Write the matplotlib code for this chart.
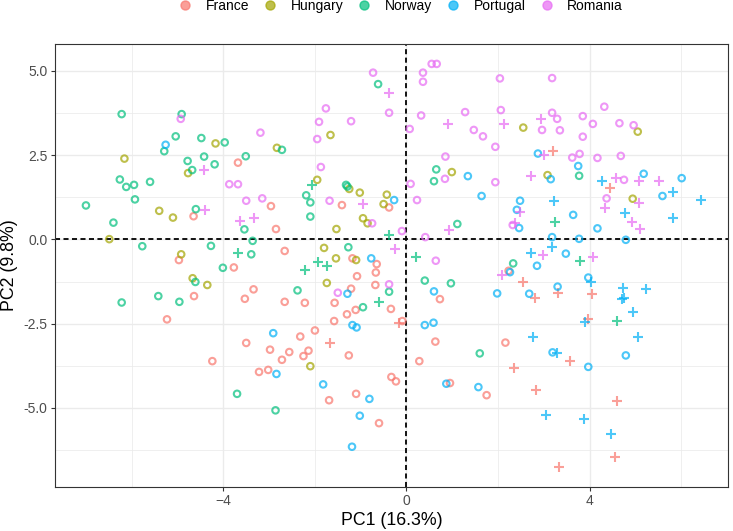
import numpy as np
import matplotlib
matplotlib.use("Agg")
import matplotlib.pyplot as plt
from matplotlib.lines import Line2D

plt.rcParams['font.family'] = ['Liberation Sans', 'DejaVu Sans']

countries = ["France", "Hungary", "Norway", "Portugal", "Romania"]
colors = {"France": "#F8766D", "Hungary": "#A3A500", "Norway": "#00BF7D",
          "Portugal": "#00B0F6", "Romania": "#E76BF3"}

# France
france_o_x = [-3.68, -4.65, -2.96, -2.85, -2.66, -4.97, -3.77, -3.34, -3.53, -2.66, -4.64, -5.23, -3.50,
              -1.41, -0.38, -1.18, -0.65, -0.67, -1.08, -0.68, -1.21, -2.22, -1.57, -1.11, -1.30, -0.34,
              -1.58, -0.09, 0.73, 2.23, -2.00, -2.32, 0.63, 2.16, -4.24, -2.98, -2.72, -3.22, -3.02,
              -2.56, -2.14, -2.25, -1.26, -1.69, -1.10, -0.33, -0.23, -0.60, 0.28, 0.95, 1.75]
france_o_y = [2.28, 0.69, 0.99, 0.31, -0.34, -0.61, -0.83, -1.48, -1.76, -1.85, -1.68, -2.37, -3.07,
              1.02, 0.95, -0.56, -0.73, -0.98, -1.09, -1.35, -1.46, -1.88, -1.88, -2.09, -2.22, -2.06,
              -2.42, -2.42, -1.77, -0.93, -2.70, -2.88, -3.03, -3.06, -3.61, -3.27, -3.57, -3.93, -3.87,
              -3.34, -3.30, -3.46, -3.44, -4.77, -4.58, -4.08, -4.21, -5.45, -3.61, -4.26, -4.62]
france_p_x = [3.19, 4.44, -0.16, -1.66, 2.55, 3.30, 2.81, 4.06, 3.97, 2.35, 3.57, 2.83, 4.60, 4.55, 3.34]
france_p_y = [2.62, 1.52, -2.49, -3.08, -1.25, -1.60, -1.75, -1.62, -2.35, -3.81, -3.60, -4.46, -4.80, -6.45, -6.75]

# Hungary
hungary_o_x = [-4.17, -2.83, -6.16, -4.77, -1.66, 0.99, -1.95, -1.25, -1.02, -0.43, 5.05, 2.55, 3.08, 4.94,
               -5.40, -5.10, -6.49, -4.92, -4.67, -4.35, -0.50, -0.95, -0.85, -1.53, -1.80, -1.54, -1.10,
               -1.74, -2.10]
hungary_o_y = [2.85, 2.72, 2.40, 1.97, 3.10, 2.00, 1.77, 1.50, 1.39, 1.33, 3.20, 3.32, 1.91, 1.21,
               0.85, 0.65, 0.01, -0.44, -1.15, -1.35, 1.05, 0.63, 0.48, 0.31, -0.25, -0.56, -0.61,
               -1.29, -3.76]
hungary_p_x = []
hungary_p_y = []

# Norway
norway_o_x = [-6.22, -4.91, -5.29, -5.04, -4.48, -3.97, -2.72, -4.78, -4.42, -4.19, -3.51, -4.68, -6.26,
              -6.12, -5.95, -5.60, -5.93, -0.62, 0.65, 0.60, -1.32, -1.29, -2.19, 3.77, -7.00, -4.60,
              -6.40, -5.77, -4.27, -3.54, -3.36, -3.39, -4.01, -4.61, -6.22, -5.42, -4.96, -2.10, -2.10,
              1.11, -1.27, -0.38, -2.38, -0.95, 0.40, 0.97, 2.33, -3.70, -2.86, 1.60]
norway_o_y = [3.72, 3.72, 2.62, 3.06, 3.01, 2.88, 2.66, 2.33, 2.46, 2.23, 2.47, 2.06, 1.78,
              1.56, 1.62, 1.71, 1.19, 4.61, 2.08, 1.73, 1.62, 1.57, 1.31, 1.89, 1.01, 0.90,
              0.50, -0.20, -0.19, 0.30, -0.04, -0.44, -0.84, -1.26, -1.87, -1.68, -1.85, 1.10, 0.68,
              0.46, -0.23, -1.55, -1.51, -2.01, -1.22, -1.30, -0.71, -4.58, -5.07, -3.38]
norway_p_x = [-2.06, -3.67, -0.38, 0.20, -1.94, -1.73, -2.21, -0.59, 3.24, 3.78, 4.60]
norway_p_y = [1.62, -0.40, 0.13, -0.53, -0.66, -0.79, -0.91, -1.85, 0.51, -0.64, -2.41]

# Portugal
portugal_o_x = [-5.26, 1.34, -0.27, 1.64, 2.87, 3.75, 3.15, 5.18, 6.01, 5.59, 2.48, -2.91, -0.77, -1.29,
                -1.18, -1.09, 0.40, 0.59, 0.60, 1.98, 2.41, 2.46, 3.64, 4.17, 3.18, 3.77, 4.79, 3.48,
                2.85, 2.26, 3.97, 3.30, 2.68, -2.84, -1.82, -0.81, -1.02, -1.19, 0.87, 1.57, 3.19,
                3.97, 4.79]
portugal_o_y = [2.81, 1.88, 1.17, 1.29, 2.55, 2.18, 1.79, 1.95, 1.82, 1.29, 1.15, -2.78, -0.56, -1.61,
                -2.54, -2.61, -2.54, -2.47, -1.54, -1.60, 0.88, 0.34, 0.73, 0.33, 0.07, 0.02, -0.01, -0.42,
                -0.78, -0.97, -1.13, -1.40, -1.61, -3.99, -4.30, -4.73, -5.23, -6.15, -4.28, -4.38, -3.35,
                -3.78, -3.44]
portugal_p_x = [4.26, 5.82, 3.23, 6.44, 4.78, 5.82, 3.17, 2.73, 4.04, 4.73, 5.24, 4.70, 4.75, 4.95, 3.90,
                2.77, 5.06, 3.29, 3.05, 3.88, 4.47]
portugal_p_y = [1.75, 1.41, 1.15, 1.17, 0.78, 0.63, -0.21, -0.39, -1.25, -1.45, -1.46, -1.77, -1.73, -2.15,
                -2.44, -2.88, -2.89, -3.36, -5.20, -5.33, -5.77]

# Romania
romania_o_x = [-4.93, -3.19, -3.87, -3.68, -3.50, -3.15, -0.73, 0.55, 0.66, 0.36, 0.36, 2.04, -1.76, -1.91,
               -1.21, -0.38, 0.32, 1.28, 2.06, 0.07, 1.47, 1.67, 1.94, -1.95, 0.85, -1.87, 0.84, 1.94,
               0.09, 0.23, -1.68, 3.18, 4.32, 3.18, 3.29, 3.85, 4.07, 4.65, 4.96, 2.96, 3.35, 3.85,
               3.62, 3.78, 4.17, 4.68, 4.75, 4.37, -0.75, -0.10, 0.41, 0.64, -0.38, -1.50, 2.32]
romania_o_y = [3.58, 3.17, 1.64, 1.64, 1.15, 1.22, 4.95, 5.21, 5.21, 4.95, 4.68, 4.78, 3.89, 3.49,
               3.51, 3.76, 3.68, 3.78, 3.84, 3.28, 3.25, 3.06, 2.75, 2.98, 2.46, 2.15, 1.80, 1.70,
               1.65, 1.17, 1.15, 4.79, 3.94, 3.76, 3.58, 3.66, 3.43, 3.45, 3.39, 3.25, 3.24, 3.05,
               2.43, 2.54, 2.42, 2.48, 1.77, 1.22, 0.48, 0.25, 0.07, -0.63, -1.33, -1.58, 0.43]
romania_p_x = [-0.39, 0.91, 2.13, 2.94, 3.00, 2.73, 4.57, 5.07, 5.52, -4.43, -4.39, -3.63, -3.32, -0.96,
               0.92, -0.26, 2.48, 2.37, 4.34, 5.07, 4.92, 5.10, 2.99, 4.07, 2.08]
romania_p_y = [4.36, 3.44, 3.43, 3.58, 2.50, 1.89, 1.82, 1.74, 1.73, 2.06, 0.87, 0.56, 0.64, 1.05,
               0.28, -0.29, 0.83, 0.48, 0.94, 1.07, 0.53, 0.31, -0.46, -0.53, -1.05]

circles = {"France": (france_o_x, france_o_y), "Hungary": (hungary_o_x, hungary_o_y),
           "Norway": (norway_o_x, norway_o_y), "Portugal": (portugal_o_x, portugal_o_y),
           "Romania": (romania_o_x, romania_o_y)}
pluses = {"France": (france_p_x, france_p_y), "Hungary": (hungary_p_x, hungary_p_y),
          "Norway": (norway_p_x, norway_p_y), "Portugal": (portugal_p_x, portugal_p_y),
          "Romania": (romania_p_x, romania_p_y)}

fig = plt.figure(figsize=(7.33, 5.31), dpi=100)
ax = fig.add_axes([0.0754, 0.0838, 0.9177, 0.8333])

for c in countries:
    x, y = circles[c]
    ax.scatter(x, y, s=22, facecolors='none', edgecolors=colors[c], linewidths=1.5, alpha=0.7, zorder=3)
    x, y = pluses[c]
    if len(x):
        ax.scatter(x, y, s=50, marker='+', color=colors[c], linewidths=1.5, alpha=0.7, zorder=3)

ax.axhline(0, color='black', lw=1.3, linestyle=(0, (2.8, 1.9)), zorder=2)
ax.axvline(0, color='black', lw=1.3, linestyle=(0, (2.8, 1.9)), zorder=2)

ax.set_xlim(-7.67, 7.02)
ax.set_ylim(-7.33, 5.80)
ax.set_xticks([-4, 0, 4])
ax.set_xticks([-6, -2, 2, 6], minor=True)
ax.set_yticks([-5, -2.5, 0, 2.5, 5])
ax.set_yticklabels(["-5.0", "-2.5", "0.0", "2.5", "5.0"])
ax.set_yticks([-6.25, -3.75, -1.25, 1.25, 3.75], minor=True)
ax.grid(True, which='major', color='#EBEBEB', lw=1.0, zorder=0)
ax.grid(True, which='minor', color='#EBEBEB', lw=0.55, zorder=0)
ax.set_axisbelow(True)
ax.tick_params(which='major', length=3.1, width=0.8, color='#333333', labelsize=10,
               labelcolor='#4D4D4D', pad=2.5)
ax.tick_params(which='minor', length=0)
for sp in ax.spines.values():
    sp.set_color('#333333')
    sp.set_linewidth(0.8)

ax.set_xlabel("PC1 (16.3%)", fontsize=12.8, labelpad=3)
ax.set_ylabel("PC2 (9.8%)", fontsize=12.8, labelpad=4)

handles = [Line2D([], [], marker='o', linestyle='none', markersize=6.5, color=colors[c], alpha=0.7)
           for c in countries]
fig.legend(handles, countries, loc='center', bbox_to_anchor=(0.5464, 0.9887), ncol=5, frameon=False,
           fontsize=10, handlelength=1.0, handletextpad=0.98, columnspacing=1.01, borderpad=0,
           borderaxespad=0)

plt.savefig('out.png', dpi=100)
